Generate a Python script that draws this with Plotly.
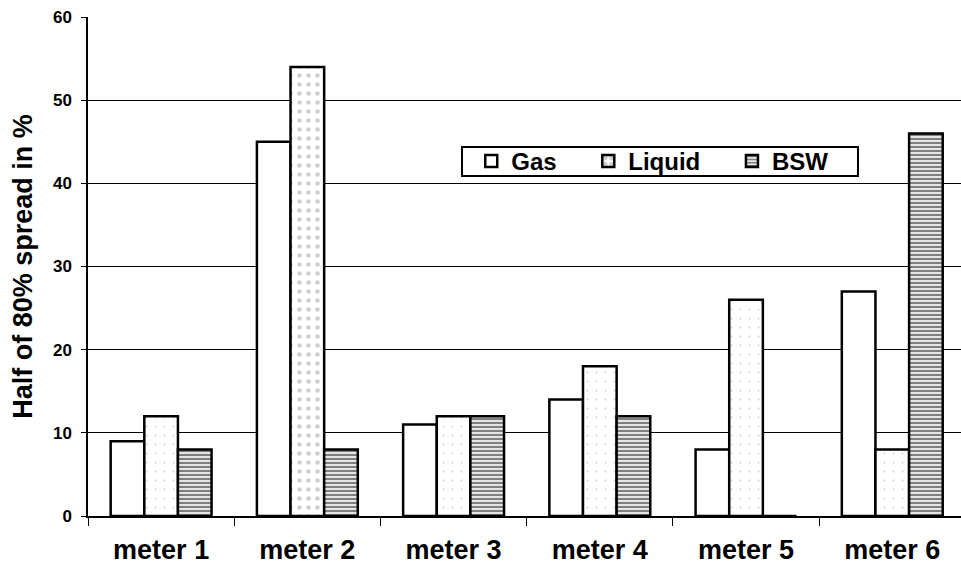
import plotly.graph_objects as go

categories = ["meter 1", "meter 2", "meter 3", "meter 4", "meter 5", "meter 6"]
gas = [9, 45, 11, 14, 8, 27]
liquid = [12, 54, 12, 18, 26, 8]
bsw = [8, 8, 12, 12, 0, 46]
y_ticks = [0, 10, 20, 30, 40, 50, 60]

FONT = "Liberation Sans, Arial, sans-serif"
PAD = "\u00a0" * 4

fig = go.Figure()
fig.add_trace(go.Bar(
    name="Gas" + PAD, x=categories, y=gas,
    marker=dict(color="white", line=dict(color="black", width=2.5)),
))
fig.add_trace(go.Bar(
    name="Liquid" + PAD, x=categories, y=liquid,
    marker=dict(color="white", line=dict(color="black", width=2.5),
                pattern=dict(shape=".", fgcolor="#a0a0a0", bgcolor="white",
                             size=9, solidity=[0.03, 0.2, 0.03, 0.03, 0.03, 0.03])),
))
fig.add_trace(go.Bar(
    name="BSW", x=categories, y=bsw,
    marker=dict(color="white", line=dict(color="black", width=2.5),
                pattern=dict(shape="-", fgcolor="black", bgcolor="white",
                             size=4, solidity=0.6)),
))

# legend frame (paper coordinates)
fig.add_shape(type="rect", xref="paper", yref="paper",
              x0=0.4284, x1=0.882, y0=0.6814, y1=0.7395,
              line=dict(color="black", width=2), fillcolor="white", layer="above")

fig.update_layout(
    width=961, height=569,
    margin=dict(l=88, r=0, t=17, b=53, autoexpand=False),
    paper_bgcolor="white", plot_bgcolor="white",
    barmode="group", bargap=0.31, bargroupgap=0,
    font=dict(family=FONT, color="black"),
    showlegend=True,
    legend=dict(
        orientation="h", x=0.439, y=0.7104, xanchor="left", yanchor="middle",
        borderwidth=0, bgcolor="rgba(0,0,0,0)",
        font=dict(family=FONT, size=24, color="black", weight="bold"),
        itemwidth=30,
    ),
    xaxis=dict(
        range=[-0.5, 5.47],
        showline=True, linecolor="black", linewidth=1.5,
        ticks="outside", ticklen=8, tickcolor="black", tickson="boundaries",
        tickfont=dict(family=FONT, size=27, color="black", weight="bold"),
        ticklabelstandoff=9, showgrid=False, fixedrange=True,
    ),
    yaxis=dict(
        range=[0, 60], tickvals=y_ticks, showline=True, linecolor="black", linewidth=1.5,
        ticks="outside", ticklen=5, tickcolor="black",
        showgrid=True, gridcolor="black", gridwidth=1.2,
        tickfont=dict(family=FONT, size=17, color="black", weight="bold"),
        ticklabelstandoff=6,
        title=dict(text="Half of 80% spread in %", standoff=12,
                   font=dict(family=FONT, size=27, color="black", weight="bold")),
        zeroline=False,
    ),
)

fig.write_html("out.html")
